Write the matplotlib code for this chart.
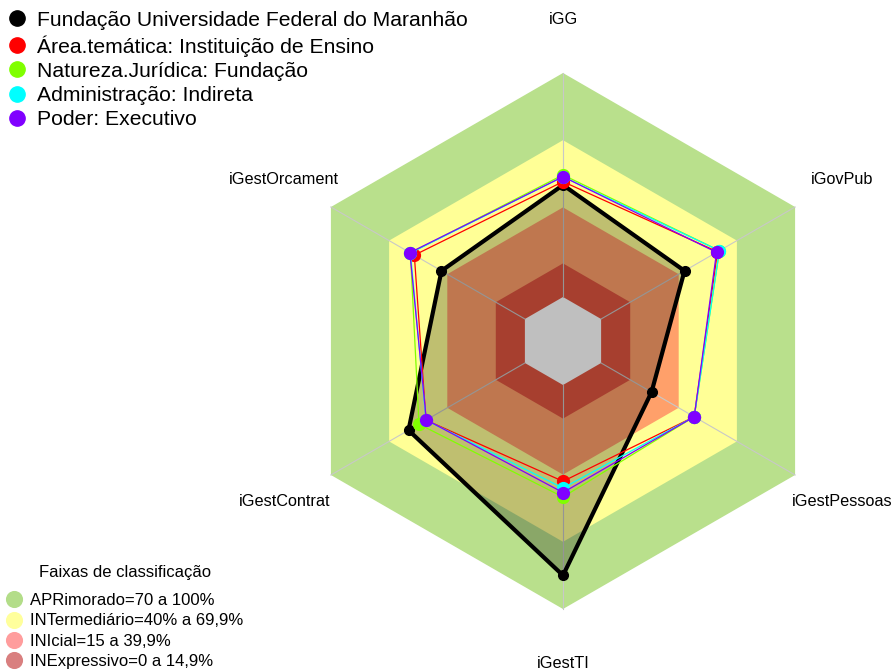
import numpy as np
import matplotlib
matplotlib.use("Agg")
import matplotlib.pyplot as plt
from matplotlib.lines import Line2D
from matplotlib.patches import Polygon

plt.rcParams['font.family'] = ['Liberation Sans', 'DejaVu Sans']

axes_labels = ["iGG", "iGovPub", "iGestPessoas", "iGestTI", "iGestContrat", "iGestOrcament"]

series_names = ["Fundação Universidade Federal do Maranhão",
                "Área.temática: Instituição de Ensino",
                "Natureza.Jurídica: Fundação",
                "Administração: Indireta",
                "Poder: Executivo"]
series_colors = ["#000000", "#ff0000", "#80ff00", "#00ffff", "#8000ff"]

ufma = [0.50, 0.43, 0.26, 0.85, 0.60, 0.43]
area_tematica = [0.515, 0.60, 0.48, 0.43, 0.51, 0.57]
natureza = [0.545, 0.61, 0.48, 0.50, 0.546, 0.59]
administracao = [0.537, 0.61, 0.48, 0.46, 0.51, 0.59]
poder = [0.537, 0.595, 0.48, 0.48, 0.508, 0.593]
series_values = [ufma, area_tematica, natureza, administracao, poder]

band_limits = [1.0, 0.70, 0.40, 0.15]
band_colors = ["#b9e08c", "#ffff96", "#ffa06a", "#e05540"]
band_title = "Faixas de classificação"
band_names = ["APRimorado=70 a 100%", "INTermediário=40% a 69,9%",
              "INIcial=15 a 39,9%", "INExpressivo=0 a 14,9%"]
band_legend_colors = ["#b3dd89", "#ffff9c", "#ff9d9d", "#d97f7f"]

r0 = 44 / 268.0
def rad(v):
    return r0 + np.asarray(v) * (1 - r0)

n = len(axes_labels)
ang = np.deg2rad(90 - 60 * np.arange(n))

fig = plt.figure(figsize=(8.96, 6.72), dpi=100)
ax = fig.add_axes([0, 0, 1, 1])
ax.set_xlim(-563 / 268, 333 / 268)
ax.set_ylim(-331 / 268, 341 / 268)
ax.axis('off')

def hexpts(r):
    return np.column_stack([r * np.cos(ang), r * np.sin(ang)])

for lim, col in zip(band_limits, band_colors):
    ax.add_patch(Polygon(hexpts(rad(lim)), closed=True, facecolor=col, edgecolor='none', zorder=1))
ax.add_patch(Polygon(hexpts(rad(0)), closed=True, facecolor='white', edgecolor='none', zorder=1))

for a in ang:
    ax.plot([rad(0) * np.cos(a), rad(1) * np.cos(a)], [rad(0) * np.sin(a), rad(1) * np.sin(a)],
            color='#c8c8c8', lw=0.8, zorder=2)

for i, (vals, col) in enumerate(zip(series_values, series_colors)):
    r = rad(vals)
    x = np.append(r * np.cos(ang), r[0] * np.cos(ang[0]))
    y = np.append(r * np.sin(ang), r[0] * np.sin(ang[0]))
    if i == 0:
        ax.fill(x, y, color='black', alpha=0.25, lw=0, zorder=3)
        ax.plot(x, y, color=col, lw=3, zorder=4, solid_joinstyle='round')
        ax.plot(x[:-1], y[:-1], 'o', color=col, ms=7, zorder=4)
    else:
        ax.plot(x, y, color=col, lw=0.9, zorder=5 + i)
        ax.plot(x[:-1], y[:-1], 'o', color=col, ms=8.5, zorder=5 + i)

lr = 322 / 268.0
for a, lab in zip(ang, axes_labels):
    ax.text(lr * np.cos(a), lr * np.sin(a), lab, ha='center', va='center', fontsize=11.7)

h1 = [Line2D([], [], marker='o', ls='none', color=c, ms=11) for c in series_colors]
leg1 = ax.legend(h1, series_names, loc='upper left', bbox_to_anchor=(0.0, 1.0 - 6.6 / 672),
                 bbox_transform=fig.transFigure, frameon=False, fontsize=15.2,
                 handlelength=1.21, handletextpad=0.34, labelspacing=0.25,
                 borderaxespad=0.0, borderpad=0.2)
ax.add_artist(leg1)

h2 = [Line2D([], [], marker='o', ls='none', color=c, ms=11.3) for c in band_legend_colors]
leg2 = ax.legend(h2, band_names, loc='lower left', bbox_to_anchor=(0.0, 0.0),
                 bbox_transform=fig.transFigure, frameon=False, fontsize=12,
                 handlelength=1.28, handletextpad=0.32, labelspacing=0.31,
                 borderaxespad=0.0, borderpad=0.2)
fig.text(125 / 896, 1 - 572 / 672, band_title, ha='center', va='center', fontsize=12)

fig.savefig("out.png", dpi=100)
